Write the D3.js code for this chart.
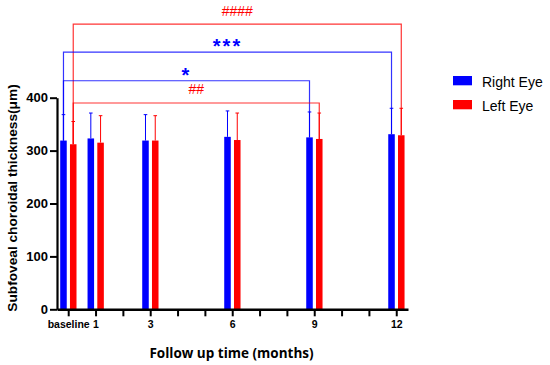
<!DOCTYPE html>
<html>
<head>
<meta charset="utf-8">
<script src="https://d3js.org/d3.v7.min.js"></script>
<style>
  body { margin: 0; background: #fff; }
  text { font-family: "Liberation Sans", Arial, sans-serif; }
  .axis path, .axis line { stroke: #000; }
  .axis text { font-weight: bold; fill: #000; }
</style>
</head>
<body>
<svg width="550" height="365"></svg>
<script>
// data
var months = [0, 1, 3, 6, 9, 12];
var monthLabels = {0: "baseline", 1: "1", 3: "3", 6: "6", 9: "9", 12: "12"};
var series = ["Right Eye", "Left Eye"];
var colors = ["#0000ff", "#ff0000"];
var rightMean = [319, 323, 319, 326, 325, 331];
var rightSD   = [49, 48, 49, 49, 48, 49];
var leftMean  = [312, 315, 319, 320, 322, 329];
var leftSD    = [43, 51, 47, 51, 49, 51];
var yTicks = [0, 100, 200, 300, 400];

// significance brackets: series index, from month, to month, label, level (µm)
var brackets = [
  {s: 1, from: 0, to: 12, label: "####", level: 539},
  {s: 0, from: 0, to: 12, label: "***", level: 486},
  {s: 0, from: 0, to: 9,  label: "*",   level: 432},
  {s: 1, from: 0, to: 9,  label: "##",  level: 390}
];

var svg = d3.select("svg");
svg.append("rect").attr("width", 550).attr("height", 365).attr("fill", "#fff");

var x = d3.scaleLinear().domain([-0.41, 12.43]).range([57, 408]);
var y = d3.scaleLinear().domain([0, 400]).range([309.3, 97.7]);
var inner = d3.scaleBand().domain(series).range([-8, 8.3]).paddingInner(0.33);

var means = [rightMean, leftMean];
var sds = [rightSD, leftSD];

var rows = [];
series.forEach(function(s, si) {
  months.forEach(function(m, i) {
    rows.push({s: si, name: s, m: m, v: means[si][i], sd: sds[si][i]});
  });
});

function cx(si, m) {
  return x(m) + inner(series[si]) + inner.bandwidth() / 2;
}

// brackets (drawn behind bars)
var br = svg.append("g").selectAll("g").data(brackets).enter().append("g");
br.append("path")
  .attr("fill", "none")
  .attr("stroke", function(d) { return colors[d.s]; })
  .attr("stroke-width", 1.2)
  .attr("stroke-opacity", 0.8)
  .attr("d", function(d) {
    var i0 = months.indexOf(d.from), i1 = months.indexOf(d.to);
    var x0 = cx(d.s, d.from), x1 = cx(d.s, d.to);
    return "M" + x0 + "," + y(means[d.s][i0]) + "V" + y(d.level) +
           "H" + x1 + "V" + y(means[d.s][i1]);
  });
br.append("text")
  .attr("x", function(d) { return (cx(d.s, d.from) + cx(d.s, d.to)) / 2; })
  .attr("y", function(d) { return d.s === 0 ? y(d.level) + 1 : y(d.level) - 8.5; })
  .attr("text-anchor", "middle")
  .attr("fill", function(d) { return colors[d.s]; })
  .style("font-size", function(d) { return d.s === 0 ? "20px" : "14px"; })
  .style("font-weight", function(d) { return d.s === 0 ? "bold" : "normal"; })
  .style("letter-spacing", function(d) { return d.s === 0 ? "2px" : "0px"; })
  .text(function(d) { return d.label; });

// error bars
var eb = svg.append("g").selectAll("g").data(rows).enter().append("g")
  .attr("stroke", function(d) { return colors[d.s]; })
  .attr("stroke-width", 1);
eb.append("line")
  .attr("x1", function(d) { return cx(d.s, d.m); })
  .attr("x2", function(d) { return cx(d.s, d.m); })
  .attr("y1", function(d) { return y(d.v); })
  .attr("y2", function(d) { return y(d.v + d.sd); });
eb.append("line")
  .attr("x1", function(d) { return cx(d.s, d.m) - 1.8; })
  .attr("x2", function(d) { return cx(d.s, d.m) + 1.8; })
  .attr("y1", function(d) { return y(d.v + d.sd); })
  .attr("y2", function(d) { return y(d.v + d.sd); });

// bars
svg.append("g").selectAll("rect").data(rows).enter().append("rect")
  .attr("x", function(d) { return x(d.m) + inner(d.name); })
  .attr("width", inner.bandwidth())
  .attr("y", function(d) { return y(d.v); })
  .attr("height", function(d) { return y(0) - y(d.v); })
  .attr("fill", function(d) { return colors[d.s]; });

// axes
var yAxis = svg.append("g").attr("class", "axis")
  .attr("transform", "translate(57,0)")
  .call(d3.axisLeft(y).tickValues(yTicks).tickSize(7).tickSizeOuter(0).tickPadding(2));
yAxis.select(".domain").attr("stroke-width", 2.2);
yAxis.selectAll(".tick line").attr("stroke-width", 2);
yAxis.selectAll("text").style("font-size", "13px");

var xAxis = svg.append("g").attr("class", "axis")
  .attr("transform", "translate(0,309.3)")
  .call(d3.axisBottom(x).tickValues(d3.range(0, 13)).tickSize(7).tickSizeOuter(0)
    .tickPadding(4)
    .tickFormat(function(m) { return monthLabels[m] || ""; }));
xAxis.select(".domain").attr("stroke-width", 2.4);
xAxis.selectAll(".tick line").attr("stroke-width", 2);
xAxis.selectAll("text").style("font-size", "10.5px");

// axis titles
svg.append("text")
  .attr("transform", "translate(17,198) rotate(-90)")
  .attr("text-anchor", "middle")
  .style("font-size", "13.7px")
  .style("font-weight", "bold")
  .text("Subfoveal choroidal thickness(μm)");

svg.append("text")
  .attr("x", 231.5).attr("y", 358)
  .attr("text-anchor", "middle")
  .style("font-family", "'Open Sans', sans-serif")
  .style("font-size", "13.5px")
  .style("font-weight", "bold")
  .text("Follow up time (months)");

// legend
var lg = svg.append("g").selectAll("g").data(series).enter().append("g")
  .attr("transform", function(d, i) { return "translate(453," + (76 + i * 24) + ")"; });
lg.append("rect").attr("width", 19).attr("height", 9.3)
  .attr("fill", function(d, i) { return colors[i]; });
lg.append("text").attr("x", 29).attr("y", 10.7)
  .style("font-size", "14px")
  .text(function(d) { return d; });
</script>
</body>
</html>
